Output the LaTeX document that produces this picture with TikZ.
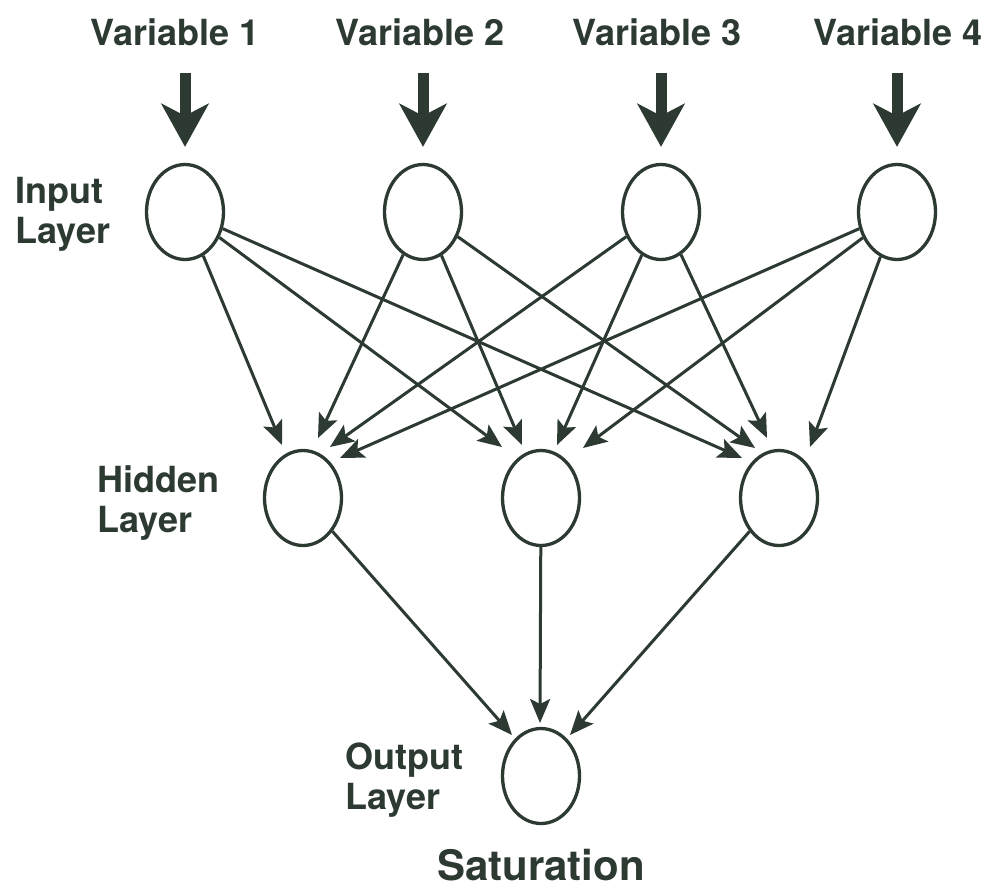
\documentclass[tikz,border=0pt]{standalone}
\usepackage{fontspec}
\setmainfont{TeX Gyre Heros}
\usetikzlibrary{arrows.meta,calc,shapes.geometric}
\definecolor{ink}{RGB}{44,58,50}
\begin{document}
\begin{tikzpicture}[x=1pt,y=-1pt,
  neuron/.style={ellipse,draw=ink,line width=3.3pt,minimum width=77pt,minimum height=95pt,inner sep=0pt},
  label/.style={text=ink,font=\bfseries\fontsize{36}{40}\selectfont,inner sep=0pt},
  sidelabel/.style={label,align=left,anchor=north west},
  feed/.style={draw=ink,line width=11pt,-{Stealth[length=43pt,width=47pt,inset=12pt]}},
  link/.style={draw=ink,line width=3pt,-{Stealth[length=24pt,width=20pt,inset=5pt]}}]
\fill[white] (0,0) rectangle (992,889);
\useasboundingbox (0,0) rectangle (992,889);

% variable names
\node[label,anchor=base] (v1) at (175,45) {Variable 1};
\node[label,anchor=base] (v2) at (420,45) {Variable 2};
\node[label,anchor=base] (v3) at (657,45) {Variable 3};
\node[label,anchor=base] (v4) at (898,45) {Variable 4};

% layers
\node[neuron] (in1) at (185,212) {};
\node[neuron] (in2) at (423,212) {};
\node[neuron] (in3) at (661,212) {};
\node[neuron] (in4) at (897,212) {};
\node[neuron] (h1) at (303,498) {};
\node[neuron] (h2) at (541,498) {};
\node[neuron] (h3) at (779,498) {};
\node[neuron] (out) at (541,776) {};

\node[sidelabel] (linput) at (15,177) {Input\\Layer};
\node[sidelabel] (lhidden) at (97,465) {Hidden\\Layer};
\node[sidelabel] (loutput) at (345,743) {Output\\Layer};
\node[label,anchor=base,font=\bfseries\fontsize{42}{44}\selectfont] (sat) at (541,880) {Saturation};

% inputs fed in
\foreach \i in {1,...,4}
  \draw[feed] ([yshift=90pt]in\i.north) -- ([yshift=16pt]in\i.north);

% arrow tips around the hidden and output neurons
\coordinate (t11) at ($(h1)+(-21,-53)$);
\coordinate (t21) at ($(h1)+(15,-60)$);
\coordinate (t31) at ($(h1)+(27,-51)$);
\coordinate (t41) at ($(h1)+(37,-40)$);
\coordinate (t12) at ($(h2)+(-39,-51)$);
\coordinate (t22) at ($(h2)+(-19,-53)$);
\coordinate (t32) at ($(h2)+(16,-53)$);
\coordinate (t42) at ($(h2)+(42,-50)$);
\coordinate (t13) at ($(h3)+(-37,-40)$);
\coordinate (t23) at ($(h3)+(-24,-50)$);
\coordinate (t33) at ($(h3)+(-12,-60)$);
\coordinate (t43) at ($(h3)+(31,-51)$);
\coordinate (o1) at ($(out)+(-29,-41)$);
\coordinate (o2) at ($(out)+(-1,-53)$);
\coordinate (o3) at ($(out)+(29,-41)$);

% input -> hidden
\foreach \i in {1,...,4}
  \foreach \j in {1,2,3}
    \draw[link] (in\i) -- (t\i\j);

% hidden -> output
\draw[link] (h1) -- (o1);
\draw[link] (h2) -- (o2);
\draw[link] (h3) -- (o3);
\end{tikzpicture}
\end{document}
